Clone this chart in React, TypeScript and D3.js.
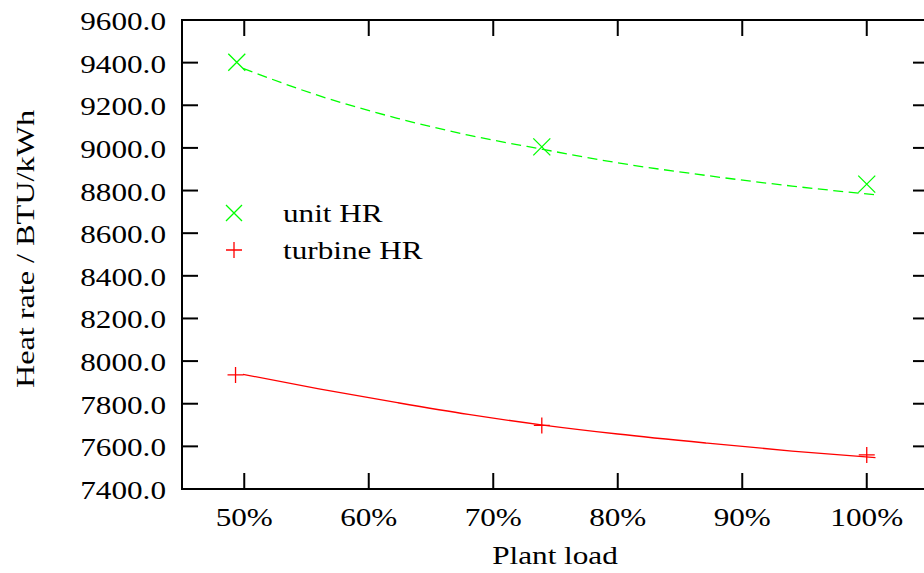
import React from "react";
import * as d3 from "d3";

// Measured data points (plant load %, heat rate BTU/kWh)
const unitLoad = [49.4, 73.9, 100.0];
const unitHR = [9402, 9005, 8830];
const turbineLoad = [49.3, 73.9, 100.0];
const turbineHR = [7935, 7698, 7560];

// Fitted curves
const unitFitLoad = [49.9, 56, 62.3, 68, 74, 80, 87.2, 94, 100.7];
const unitFitHR = [9373, 9245, 9139, 9060, 8993, 8930, 8870, 8821, 8780];
const turbineFitLoad = [49.9, 56, 62.3, 68, 74, 80, 87.2, 94, 100.7];
const turbineFitHR = [7938, 7870, 7805, 7750, 7700, 7658, 7615, 7578, 7547];

const xTicks = [50, 60, 70, 80, 90, 100];
const yTicks = [7400, 7600, 7800, 8000, 8200, 8400, 8600, 8800, 9000, 9200, 9400, 9600];

const W = 924;
const H = 573;
const left = 182;
const right = 929;
const top = 20;
const bottom = 489;
const FONT = "'Liberation Serif', 'Times New Roman', serif";
const FS = 26;
const SX = 1.2;

export default function App() {
  const x = d3.scaleLinear().domain([45, 105]).range([left, right]);
  const y = d3.scaleLinear().domain([7400, 9600]).range([bottom, top]);
  const line = d3
    .line<[number, number]>()
    .x((d) => x(d[0]))
    .y((d) => y(d[1]))
    .curve(d3.curveMonotoneX);
  const unitFit = unitFitLoad.map((l, i) => [l, unitFitHR[i]] as [number, number]);
  const turbFit = turbineFitLoad.map((l, i) => [l, turbineFitHR[i]] as [number, number]);
  const green = "#00ff00";
  const red = "#ff0000";
  const tickLen = 16;

  const cross = (cx: number, cy: number, r: number, key: string) => (
    <path
      key={key}
      d={`M${cx - r},${cy - r}L${cx + r},${cy + r}M${cx - r},${cy + r}L${cx + r},${cy - r}`}
      stroke={green}
      strokeWidth={1.3}
      fill="none"
    />
  );
  const plus = (cx: number, cy: number, r: number, key: string) => (
    <path
      key={key}
      d={`M${cx - r},${cy}L${cx + r},${cy}M${cx},${cy - r}L${cx},${cy + r}`}
      stroke={red}
      strokeWidth={1.3}
      fill="none"
    />
  );
  const txt = (
    s: string,
    tx: number,
    ty: number,
    anchor: string,
    key: string,
    rotate = 0,
    sx = SX
  ) => (
    <text
      key={key}
      transform={`translate(${tx},${ty}) rotate(${rotate}) scale(${sx},1)`}
      textAnchor={anchor}
      fontFamily={FONT}
      fontSize={FS}
      fill="#000"
    >
      {s}
    </text>
  );

  return (
    <svg
      width={W}
      height={H}
      style={{ position: "absolute", left: 0, top: 0, background: "#fff" }}
    >
      <rect x={0} y={0} width={W} height={H} fill="#fff" />
      {/* ticks */}
      {yTicks.map((t) => (
        <g key={"y" + t}>
          <line x1={left} x2={left + tickLen} y1={y(t)} y2={y(t)} stroke="#000" strokeWidth={2} />
          <line x1={right} x2={right - tickLen} y1={y(t)} y2={y(t)} stroke="#000" strokeWidth={2} />
          {txt(t.toFixed(1), 166, y(t) + 10, "end", "yl" + t)}
        </g>
      ))}
      {xTicks.map((t) => (
        <g key={"x" + t}>
          <line x1={x(t)} x2={x(t)} y1={bottom} y2={bottom - tickLen} stroke="#000" strokeWidth={2} />
          <line x1={x(t)} x2={x(t)} y1={top} y2={top + tickLen} stroke="#000" strokeWidth={2} />
          {txt(`${t}%`, x(t), 526, "middle", "xl" + t)}
        </g>
      ))}
      <rect
        x={left}
        y={top}
        width={right - left}
        height={bottom - top}
        fill="none"
        stroke="#000"
        strokeWidth={2}
      />
      {/* fit curves */}
      <path d={line(unitFit) || ""} fill="none" stroke={green} strokeWidth={1.3} strokeDasharray="10,5.5" />
      <path d={line(turbFit) || ""} fill="none" stroke={red} strokeWidth={1.3} />
      {/* markers */}
      {unitLoad.map((l, i) => cross(x(l), y(unitHR[i]), 8.5, "u" + i))}
      {turbineLoad.map((l, i) => plus(x(l), y(turbineHR[i]), 8, "t" + i))}
      {/* legend */}
      {cross(234, 213, 8, "lg1")}
      {txt("unit HR", 283, 222, "start", "lt1")}
      {plus(234, 250, 8, "lg2")}
      {txt("turbine HR", 283, 259, "start", "lt2")}
      {/* axis titles */}
      {txt("Plant load", 555, 564, "middle", "xt")}
      {txt("Heat rate / BTU/kWh", 34, 249, "middle", "yt", -90, 1.24)}
    </svg>
  );
}
